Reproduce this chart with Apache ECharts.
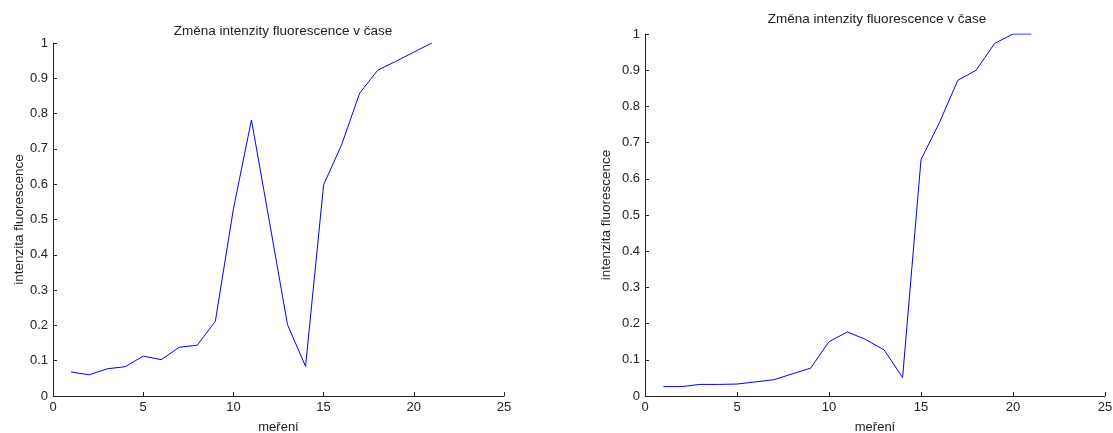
<!DOCTYPE html>
<html>
<head>
<meta charset="utf-8">
<script src="https://cdn.jsdelivr.net/npm/echarts@6/dist/echarts.min.js"></script>
<style>
html,body{margin:0;padding:0;background:#fff;}
#chart{width:1113px;height:433px;}
</style>
</head>
<body>
<div id="chart"></div>
<script>
var titleText = "Změna intenzity fluorescence v čase";
var xName = "meření";
var yName = "intenzita fluorescence";
var measurements = [1,2,3,4,5,6,7,8,9,10,11,12,13,14,15,16,17,18,19,20,21];
var intensityLeft = [0.068,0.060,0.077,0.083,0.113,0.103,0.138,0.144,0.212,0.53,0.782,0.493,0.202,0.084,0.598,0.712,0.858,0.923,0.948,0.974,1.0];
var intensityRight = [0.026,0.026,0.032,0.032,0.033,0.039,0.045,0.061,0.077,0.150,0.177,0.156,0.127,0.051,0.653,0.755,0.872,0.900,0.974,1.0,1.0];

function pairs(xs, ys){ return xs.map(function(x,i){ return [x, ys[i]]; }); }

var font = "Liberation Sans, Arial, sans-serif";
function xAxisCfg(gi){
  return {
    gridIndex: gi, type:'value', min:0, max:25, interval:5,
    name: xName, nameLocation:'middle', nameGap:25,
    nameTextStyle:{fontFamily:font, fontSize:13, color:'#222'},
    axisLine:{show:true, onZero:false, lineStyle:{color:'#222', width:1}},
    axisTick:{show:true, inside:true, length:4, lineStyle:{color:'#222'}},
    axisLabel:{fontFamily:font, fontSize:13, color:'#222', margin:5},
    splitLine:{show:false}
  };
}
function yAxisCfg(gi, gap){
  return {
    gridIndex: gi, type:'value', min:0, max:1, interval:0.1,
    name: yName, nameLocation:'middle', nameGap:gap, nameRotate:90,
    nameTextStyle:{fontFamily:font, fontSize:13.5, color:'#222'},
    axisLine:{show:true, onZero:false, lineStyle:{color:'#222', width:1}},
    axisTick:{show:true, inside:true, length:4, lineStyle:{color:'#222'}},
    axisLabel:{fontFamily:font, fontSize:13, color:'#222', margin:5},
    splitLine:{show:false}
  };
}

var chart = echarts.init(document.getElementById('chart'), null, {renderer:'canvas'});
chart.setOption({
  animation:false,
  backgroundColor:'#fff',
  title:[
    {text:titleText, left:278, top:19, textAlign:'center', textStyle:{fontFamily:font, fontSize:13.5, fontWeight:'normal', color:'#222'}},
    {text:titleText, left:872, top:7, textAlign:'center', textStyle:{fontFamily:font, fontSize:13.5, fontWeight:'normal', color:'#222'}}
  ],
  grid:[
    {left:53, right:609, top:43, bottom:37, containLabel:false, outerBoundsMode:'none'},
    {left:645, right:8, top:34, bottom:37, containLabel:false, outerBoundsMode:'none'}
  ],
  xAxis:[xAxisCfg(0), xAxisCfg(1)],
  yAxis:[yAxisCfg(0, 27), yAxisCfg(1, 32)],
  series:[
    {type:'line', xAxisIndex:0, yAxisIndex:0, data:pairs(measurements, intensityLeft), showSymbol:false, lineStyle:{color:'#0000ff', width:1}},
    {type:'line', xAxisIndex:1, yAxisIndex:1, data:pairs(measurements, intensityRight), showSymbol:false, lineStyle:{color:'#0000ff', width:1}}
  ]
});
</script>
</body>
</html>
